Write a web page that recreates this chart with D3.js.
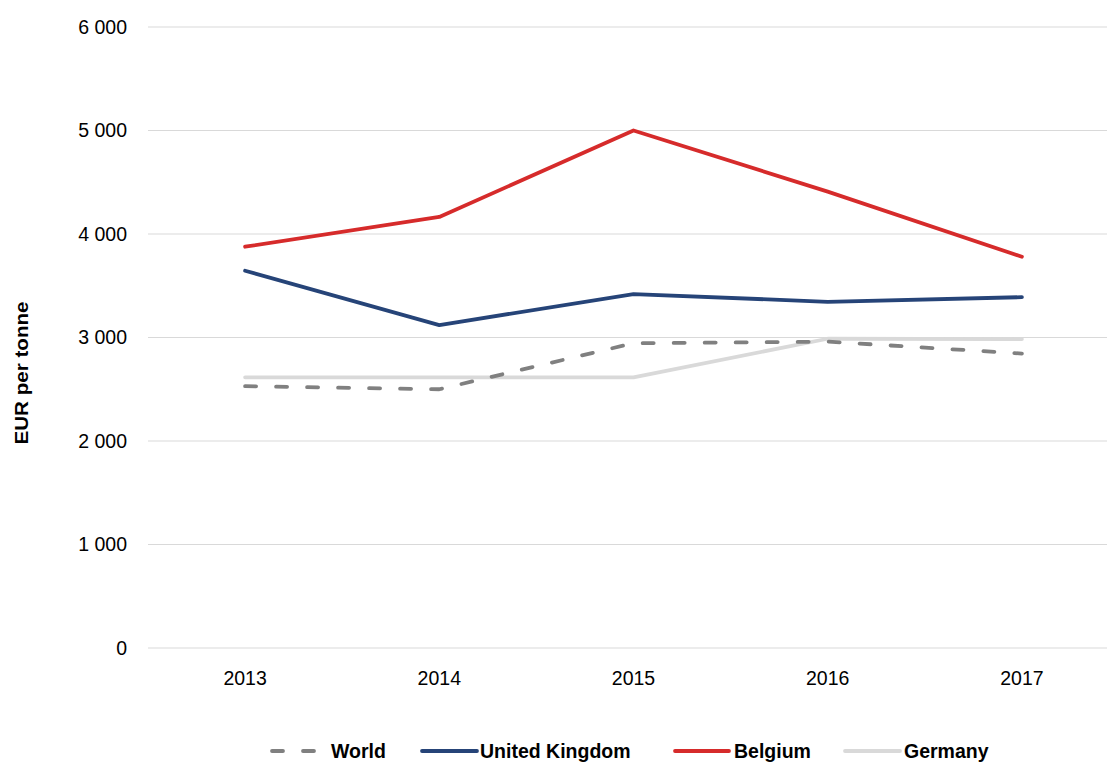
<!DOCTYPE html>
<html><head><meta charset="utf-8">
<script src="https://cdn.jsdelivr.net/npm/d3@7"></script>
<style>
body{margin:0;background:#fff;}
svg{display:block;}
text{font-family:"Liberation Sans",Arial,sans-serif;fill:#000;}
</style></head>
<body><svg id="c" width="1107" height="764"></svg>
<script>
const years = ["2013","2014","2015","2016","2017"];
const world = [2530, 2500, 2945, 2960, 2845];
const unitedKingdom = [3645, 3120, 3420, 3345, 3390];
const belgium = [3877, 4165, 5000, 4410, 3780];
const germany = [2615, 2615, 2615, 2988, 2985];
const yTicks = [0, 1000, 2000, 3000, 4000, 5000, 6000];
const seriesNames = ["World", "United Kingdom", "Belgium", "Germany"];

const series = [
  {name: seriesNames[0], values: world, color: "#808080", dash: "11,20"},
  {name: seriesNames[1], values: unitedKingdom, color: "#264478", dash: null},
  {name: seriesNames[2], values: belgium, color: "#D62B2B", dash: null},
  {name: seriesNames[3], values: germany, color: "#D9D9D9", dash: null}
];

const svg = d3.select("#c");
const x = d3.scaleBand().domain(years).range([148, 1119]).padding(0);
const y = d3.scaleLinear().domain([0, 6000]).range([648, 27]);
const loc = d3.formatLocale({decimal: ".", thousands: "\u00a0", grouping: [3], currency: ["", ""]});
const fmt = loc.format(",d");

// gridlines
svg.append("g").selectAll("line").data(yTicks).join("line")
  .attr("x1", 148).attr("x2", 1107)
  .attr("y1", d => y(d)).attr("y2", d => y(d))
  .attr("stroke", "#D9D9D9").attr("stroke-width", 1.2);

// y axis labels
const yAxis = d3.axisLeft(y).tickValues(yTicks).tickFormat(fmt).tickSize(0).tickPadding(0);
const yg = svg.append("g").attr("transform", "translate(127,0)").call(yAxis);
yg.select(".domain").remove();
yg.selectAll("text").attr("font-size", "19.5px").attr("fill", "#000")
  .attr("font-family", "Liberation Sans, Arial, sans-serif");

// x axis labels
const xAxis = d3.axisBottom(x).tickSize(0).tickPadding(0);
const xg = svg.append("g").attr("transform", "translate(0,671)").call(xAxis);
xg.select(".domain").remove();
xg.selectAll("text").attr("font-size", "19.5px").attr("fill", "#000")
  .attr("font-family", "Liberation Sans, Arial, sans-serif");

// y title
svg.append("text")
  .attr("transform", "translate(28,373) rotate(-90)")
  .attr("text-anchor", "middle")
  .attr("font-size", "18px").attr("font-weight", "bold")
  .attr("textLength", 143).attr("lengthAdjust", "spacingAndGlyphs")
  .text("EUR per tonne");

// lines
const line = d3.line().x((d, i) => x(years[i]) + x.bandwidth() / 2).y(d => y(d));
const drawOrder = [series[3], series[0], series[1], series[2]];
svg.append("g").selectAll("path").data(drawOrder).join("path")
  .attr("d", d => line(d.values))
  .attr("fill", "none")
  .attr("stroke", d => d.color)
  .attr("stroke-width", 3.8)
  .attr("stroke-linejoin", "round")
  .attr("stroke-linecap", "round")
  .attr("stroke-dasharray", d => d.dash);

// legend
const legendPos = [
  {sx: 272, ex: 318, tx: 331},
  {sx: 422, ex: 477, tx: 480},
  {sx: 675, ex: 729, tx: 734},
  {sx: 845, ex: 900, tx: 904}
];
const lg = svg.append("g");
series.forEach((s, i) => {
  const p = legendPos[i];
  lg.append("line").attr("x1", p.sx).attr("x2", p.ex).attr("y1", 751).attr("y2", 751)
    .attr("stroke", s.color).attr("stroke-width", 3.8).attr("stroke-linecap", "round")
    .attr("stroke-dasharray", s.dash);
  lg.append("text").attr("x", p.tx).attr("y", 758)
    .attr("font-size", "19.5px").attr("font-weight", "bold")
    .text(s.name);
});
</script></body></html>
